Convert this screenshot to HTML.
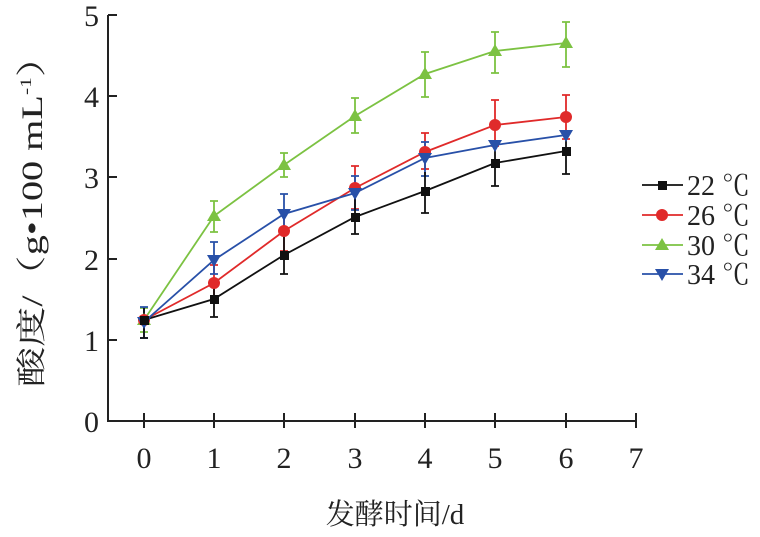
<!DOCTYPE html>
<html><head><meta charset="utf-8"><style>body{margin:0;background:#fff}</style></head><body>
<svg width="760" height="532" xmlns="http://www.w3.org/2000/svg" font-family="'Liberation Serif','Noto Serif CJK SC',serif">
<defs>
<path id="t" d="M0,-7 L7,5 L-7,5Z"/>
<path id="v" d="M0,7 L7,-5 L-7,-5Z"/>
</defs>
<g stroke="#222" stroke-width="2" fill="none">
<path d="M108 15 V421 H637"/>
<path d="M108 15h9M108 96h9M108 177h9M108 259h9M108 340h9"/>
<path d="M144 413v15M214 413v15M284 413v15M355 413v15M425 413v15M495 413v15M566 413v15M636 413v15"/>
</g>
<g font-size="30" fill="#222" text-anchor="end">
<text x="99" y="26">5</text><text x="99" y="107">4</text><text x="99" y="188">3</text><text x="99" y="270">2</text><text x="99" y="351">1</text><text x="99" y="432">0</text>
</g>
<g font-size="30" fill="#222" text-anchor="middle">
<text x="144" y="468">0</text><text x="214" y="468">1</text><text x="284" y="468">2</text><text x="355" y="468">3</text><text x="425" y="468">4</text><text x="495" y="468">5</text><text x="566" y="468">6</text><text x="636" y="468">7</text>
</g>
<text x="395" y="524" font-size="29" text-anchor="middle" fill="#222">发酵时间/d</text>
<text transform="translate(42,212) rotate(-90)" font-size="30" text-anchor="middle" fill="#222" textLength="350" lengthAdjust="spacingAndGlyphs">酸度/（g•100 mL<tspan font-size="16" dy="-11">-1</tspan><tspan dy="11">）</tspan></text>
<g stroke-width="1.8" fill="none">
<g stroke="#7cc242">
<polyline points="144,320 214,216 284,165 355,116 425,74 495,51 566,43"/>
<path d="M144,308v24M140,308h8M140,332h8 M214,201v31M210,201h8M210,232h8 M284,153v24M280,153h8M280,177h8 M355,98v35M351,98h8M351,133h8 M425,52v45M421,52h8M421,97h8 M495,32v41M491,32h8M491,73h8 M566,22v45M562,22h8M562,67h8"/>
</g>
<g stroke="#e02a2a">
<polyline points="144,320 214,283 284,231 355,188 425,152 495,125 566,117"/>
<path d="M214,265v36M210,265h8M210,301h8 M284,211v40M280,211h8M280,251h8 M355,166v43M351,166h8M351,209h8 M425,133v36M421,133h8M421,169h8 M495,100v46M491,100h8M491,146h8 M566,95v44M562,95h8M562,139h8"/>
</g>
<g stroke="#2850a8">
<polyline points="144,322 214,260 284,214 355,193 425,158 495,145 566,135"/>
<path d="M144,307v31M140,307h8M140,338h8 M214,242v32M210,242h8M210,274h8 M284,194v38M280,194h8M280,232h8 M355,176v34M351,176h8M351,210h8 M425,142v34M421,142h8M421,176h8"/>
</g>
<g stroke="#111">
<polyline points="144,320 214,299 284,255 355,217 425,191 495,163 566,151"/>
<path d="M144,308v30M140,338h8 M214,287v30M210,317h8 M284,237v37M280,274h8 M355,198v36M351,234h8 M425,172v41M421,213h8 M495,145v41M491,186h8 M566,133v41M562,174h8"/>
</g>
</g>
<g fill="#7cc242">
<use href="#t" x="144" y="320"/><use href="#t" x="214" y="216"/><use href="#t" x="284" y="165"/><use href="#t" x="355" y="116"/><use href="#t" x="425" y="74"/><use href="#t" x="495" y="51"/><use href="#t" x="566" y="43"/></g>
<g fill="#e02a2a">
<circle cx="144" cy="320" r="6"/><circle cx="214" cy="283" r="6"/><circle cx="284" cy="231" r="6"/><circle cx="355" cy="188" r="6"/><circle cx="425" cy="152" r="6"/><circle cx="495" cy="125" r="6"/><circle cx="566" cy="117" r="6"/></g>
<g fill="#2850a8">
<use href="#v" x="144" y="322"/><use href="#v" x="214" y="260"/><use href="#v" x="284" y="214"/><use href="#v" x="355" y="193"/><use href="#v" x="425" y="158"/><use href="#v" x="495" y="145"/><use href="#v" x="566" y="135"/></g>
<g fill="#111">
<rect x="140" y="316" width="9" height="9"/><rect x="210" y="295" width="9" height="9"/><rect x="280" y="251" width="9" height="9"/><rect x="351" y="213" width="9" height="9"/><rect x="421" y="187" width="9" height="9"/><rect x="491" y="159" width="9" height="9"/><rect x="562" y="147" width="9" height="9"/></g>
<g stroke-width="1.8">
<line x1="642" y1="185" x2="683" y2="185" stroke="#111"/><rect x="658" y="181" width="9" height="9" fill="#111"/>
<line x1="642" y1="215" x2="683" y2="215" stroke="#e02a2a"/><circle cx="662" cy="215" r="6" fill="#e02a2a"/>
<line x1="642" y1="245" x2="683" y2="245" stroke="#7cc242"/><use href="#t" x="662" y="245" fill="#7cc242"/>
<line x1="642" y1="274" x2="683" y2="274" stroke="#2850a8"/><use href="#v" x="662" y="274" fill="#2850a8"/>
</g>
<g font-size="28" fill="#222">
<text x="687" y="195">22 ℃</text><text x="687" y="225">26 ℃</text><text x="687" y="255">30 ℃</text><text x="687" y="284">34 ℃</text>
</g>
</svg>
</body></html>
